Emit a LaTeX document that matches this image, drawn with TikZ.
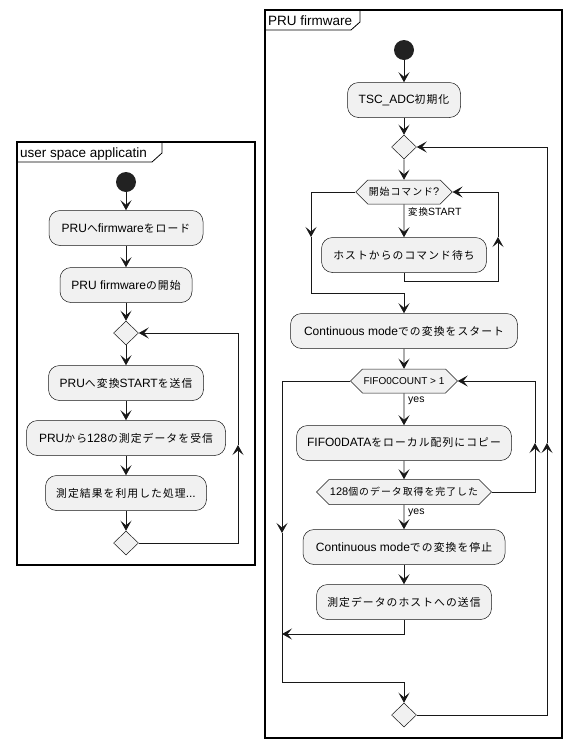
\documentclass[tikz,border=0pt]{standalone}
\usepackage{fontspec}
\setmainfont{Liberation Sans}
\newfontfamily\jpfont[Scale=0.9,LetterSpace=10]{Noto Sans CJK JP}
\newcommand{\jtext}[1]{{\jpfont #1}}
\usetikzlibrary{arrows.meta,shapes.geometric,shapes.symbols}
\definecolor{boxfill}{HTML}{F1F1F1}
\definecolor{boxline}{HTML}{181818}
\definecolor{startfill}{HTML}{222222}

\begin{document}
\begin{tikzpicture}[x=1pt,y=-1pt,
    every node/.style={font=\fontsize{12}{14}\selectfont},
    act/.style={draw=boxline, fill=boxfill, rounded corners=11pt, minimum height=35pt, inner sep=1pt, line width=0.5pt},
    dec/.style={diamond, draw=boxline, fill=boxfill, minimum width=25pt, minimum height=24pt, inner sep=0pt, line width=0.5pt},
    cond/.style={signal, signal to=west and east, draw=boxline, fill=boxfill, minimum height=24pt, inner sep=1pt, line width=0.5pt, font=\fontsize{11}{13}\selectfont},
    startdot/.style={circle, fill=startfill, minimum size=20pt, inner sep=0pt},
    flow/.style={-{Stealth[length=10pt,width=11pt,inset=4.5pt]}, draw=boxline, line width=0.8pt},
    lbl/.style={anchor=west, inner sep=0pt, font=\fontsize{10.5}{12}\selectfont},
    frame/.style={draw=black, line width=1.3pt},
    tab/.style={anchor=base west, inner sep=0pt, font=\fontsize{13.5}{16}\selectfont}]
  \useasboundingbox (0,0) rectangle (574,753);

  % user space application
  \draw[frame] (17,142) rectangle (255,565);
  \draw[line width=0.8pt] (17,162) -- (152,162) -- (162,153) -- (162,142);
  \node[tab] (ustitle) at (20,157) {user space applicatin};
  \node[startdot] (us0) at (126,182) {};
  \node[act, minimum width=154pt] (us1) at (126,228) {PRU\jtext{へ}firmware\jtext{をロード}};
  \node[act, minimum width=132pt] (us2) at (126,285) {PRU firmware\jtext{の開始}};
  \node[dec] (us3) at (126,333) {};
  \node[act, minimum width=155pt] (us4) at (126,383) {PRU\jtext{へ変換}START\jtext{を送信}};
  \node[act, minimum width=199pt] (us5) at (126,438) {PRU\jtext{から}128\jtext{の測定データを受信}};
  \node[act, minimum width=161pt] (us6) at (126,493) {\jtext{測定結果を利用した処理}...};
  \node[dec] (us7) at (126,543) {};
  \coordinate (usup) at (238,445);
  \foreach \a/\b in {us0/us1,us1/us2,us2/us3,us3/us4,us4/us5,us5/us6,us6/us7}
    \draw[flow] (\a) -- (\b);
  \draw[flow] (us7.east) -| (usup);
  \draw[flow] (usup) |- (us3.east);

  % PRU firmware
  \draw[frame] (265,10) rectangle (562,738);
  \draw[line width=0.8pt] (265,30) -- (351,30) -- (360,22) -- (360,10);
  \node[tab] (prutitle) at (268,25) {PRU firmware};
  \node[startdot] (pru0) at (404,50) {};
  \node[act, minimum width=113pt] (init) at (404,100) {TSC\_ADC\jtext{初期化}};
  \node[dec] (top) at (404,147) {};
  \node[cond, minimum width=96pt] (cmd) at (404,192) {\jtext{開始コマンド}?};
  \node[act, minimum width=165pt] (wait) at (404,255) {\jtext{ホストからのコマンド待ち}};
  \node[act, minimum width=227pt] (cont) at (404,331) {Continuous mode\jtext{での変換をスタート}};
  \node[cond, minimum width=104pt, font=\fontsize{10}{12}\selectfont] (count) at (404,381) {FIFO0COUNT > 1};
  \node[act, minimum width=215pt] (copy) at (404,443) {FIFO0DATA\jtext{をローカル配列にコピー}};
  \node[cond, minimum width=172pt, minimum height=25pt] (done) at (404,492) {128\jtext{個のデータ取得を完了した}};
  \node[act, minimum width=202pt] (stop) at (404,547) {Continuous mode\jtext{での変換を停止}};
  \node[act, minimum width=175pt] (send) at (404,602) {\jtext{測定データのホストへの送信}};
  \node[dec] (bottom) at (404,715) {};
  \node[lbl] (startlbl) at (408,212) {\jtext{変換}START};
  \node[lbl] (yes1) at (408,401) {yes};
  \node[lbl] (yes2) at (408,513) {yes};

  \coordinate (k1) at (311,237);
  \coordinate (k2) at (404,293);
  \coordinate (k3) at (404,281);
  \coordinate (k4) at (498,237);
  \coordinate (j1) at (282,533);
  \coordinate (j2) at (282,634);
  \coordinate (j3) at (404,682);
  \coordinate (r1) at (535,443);
  \coordinate (r2) at (547,443);

  \foreach \a/\b in {pru0/init,init/top,top/cmd,cmd/wait,cont/count,count/copy,copy/done,done/stop,stop/send}
    \draw[flow] (\a) -- (\b);
  \draw[flow] (cmd.west) -| (k1);
  \draw[flow] (k1) |- (k2) -- (cont.north);
  \draw[flow] (wait.south) -- (k3) -| (k4);
  \draw[flow] (k4) |- (cmd.east);
  \draw[flow] (done.east) -| (r1);
  \draw[flow] (r1) |- (count.east);
  \draw[flow] (send.south) |- (j2);
  \draw[flow] (count.west) -| (j1);
  \draw[flow] (j1) |- (j3) -- (bottom.north);
  \draw[flow] (bottom.east) -| (r2);
  \draw[flow] (r2) |- (top.east);
\end{tikzpicture}
\end{document}
